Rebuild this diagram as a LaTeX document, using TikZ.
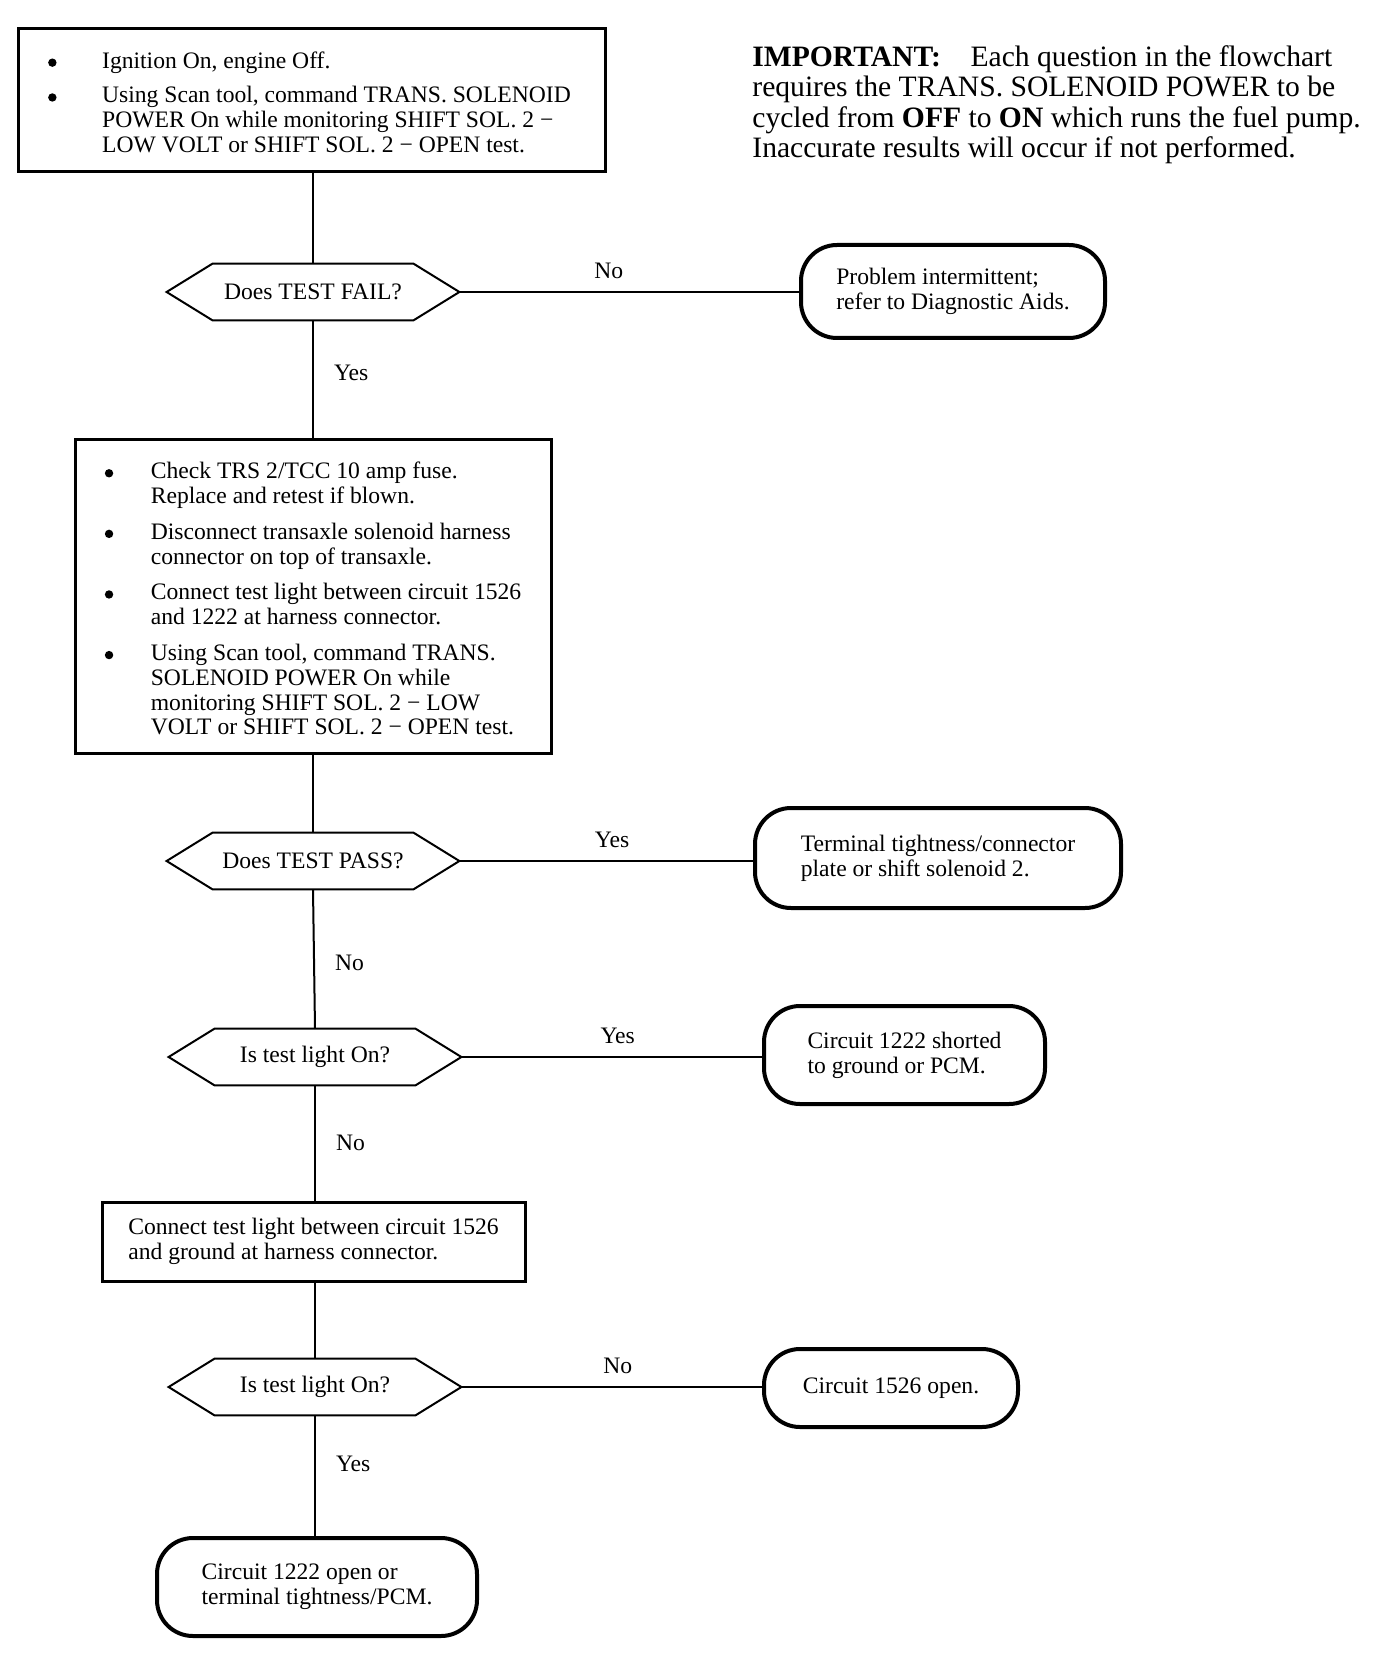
\documentclass[tikz,border=0pt]{standalone}
\usepackage{fontspec}
\setmainfont{Liberation Serif}
\usetikzlibrary{positioning,calc}
\newcommand{\chartfont}{\fontsize{11.8}{12.4}\selectfont}
\newcommand{\notefont}{\fontsize{14.8}{15.2}\selectfont}
\newcommand{\dotmark}{\tikz[baseline=-0.5ex]\fill (0,0) circle (2.1pt);}
\tikzset{
  flowbox/.style={rectangle, draw, line width=1.5pt, align=left, inner sep=0pt},
  ask/.style={rectangle, minimum width=146pt, minimum height=28pt, inner sep=0pt},
  askline/.style={line width=1pt, line join=miter},
  endbox/.style={rectangle, rounded corners=18pt, draw, line width=2pt, align=left, inner sep=0pt},
  link/.style={line width=1pt},
  answer/.style={font=\chartfont, inner sep=2pt},
}

\begin{document}
\begin{tikzpicture}[x=0.5pt, y=-0.5pt, font=\chartfont]
  \useasboundingbox (0,0) rectangle (1392,1658);

  % note at the top right
  \node[anchor=north west, align=left, inner sep=0pt, font=\notefont] (note) at (752,45)
    {\textbf{IMPORTANT:}\quad Each question in the flowchart\\
     requires the TRANS. SOLENOID POWER to be\\
     cycled from \textbf{OFF} to \textbf{ON} which runs the fuel pump.\\
     Inaccurate results will occur if not performed.};

  % main column
  \node[flowbox, minimum width=293.5pt, minimum height=71.25pt] (start) at (311.5,100)
    {\begin{tabular}{@{}p{25pt}@{}l@{}}
      \hspace*{-2pt}\dotmark & \rule{0pt}{14pt}Ignition On, engine Off.\\[5pt]
      \hspace*{-2pt}\dotmark & Using Scan tool, command TRANS. SOLENOID\\
                  & POWER On while monitoring SHIFT SOL. 2 −\\
                  & LOW VOLT or SHIFT SOL. 2 − OPEN test.
     \end{tabular}};
  \node[ask] (q1) at (313,292) {Does TEST FAIL?};
  \node[flowbox, minimum width=238pt, minimum height=157pt] (check) at (313,596)
    {\begin{tabular}{@{}p{23pt}@{}l@{}}
      \dotmark & \rule{0pt}{14.5pt}Check TRS 2/TCC 10 amp fuse.\\
                  & Replace and retest if blown.\\[5.5pt]
      \dotmark & Disconnect transaxle solenoid harness\\
                  & connector on top of transaxle.\\[5.5pt]
      \dotmark & Connect test light between circuit 1526\\
                  & and 1222 at harness connector.\\[5.5pt]
      \dotmark & Using Scan tool, command TRANS.\\
                  & SOLENOID POWER On while\\
                  & monitoring SHIFT SOL. 2 − LOW\\
                  & VOLT or SHIFT SOL. 2 − OPEN test.
     \end{tabular}};
  \node[ask] (q2) at (313,861) {Does TEST PASS?};
  \node[ask] (q3) at (315,1057) {Is test light On?};
  \node[flowbox, minimum width=211.5pt, minimum height=39.5pt] (ground) at (313.5,1241.5)
    {Connect test light between circuit 1526\\and ground at harness connector.};
  \node[ask] (q4) at (315,1387) {Is test light On?};
  \node[endbox, minimum width=160pt, minimum height=49pt] (t5) at (317,1587)
    {Circuit 1222 open or\\terminal tightness/PCM.};

  % results on the right
  \node[endbox, minimum width=152pt, minimum height=46.5pt] (t1) at (953,291.5)
    {Problem intermittent;\\refer to Diagnostic Aids.};
  \node[endbox, minimum width=183pt, minimum height=50pt] (t2) at (938,858)
    {Terminal tightness/connector\\plate or shift solenoid 2.};
  \node[endbox, minimum width=140.5pt, minimum height=49pt] (t3) at (904.5,1055)
    {Circuit 1222 shorted\\to ground or PCM.};
  \node[endbox, minimum width=127pt, minimum height=39pt] (t4) at (891,1388)
    {Circuit 1526 open.};

  % question shapes
  \foreach \q in {q1,q2,q3,q4}
    \draw[askline] (\q.west) -- ([xshift=23pt]\q.north west) -- ([xshift=-23pt]\q.north east)
      -- (\q.east) -- ([xshift=-23pt]\q.south east) -- ([xshift=23pt]\q.south west) -- cycle;

  % connectors
  \draw[link] (q1.north |- start.south) -- (q1.north);
  \draw[link] (q1.south) -- node[answer, right=8pt, pos=0.45] {Yes} (q1.south |- check.north);
  \draw[link] (q2.north |- check.south) -- (q2.north);
  \draw[link] (q2.south) -- node[answer, right=8pt, pos=0.53] {No} (q3.north);
  \draw[link] (q3.south) -- node[answer, right=8pt] {No} (q3.south |- ground.north);
  \draw[link] (q4.north |- ground.south) -- (q4.north);
  \draw[link] (q4.south) -- node[answer, right=8pt, pos=0.4] {Yes} (q4.south |- t5.north);
  \draw[link] (q1.east) -- node[answer, above=4pt, pos=0.44] {No} (t1.west |- q1.east);
  \draw[link] (q2.east) -- node[answer, above=4pt, pos=0.52] {Yes} (t2.west |- q2.east);
  \draw[link] (q3.east) -- node[answer, above=4pt, pos=0.52] {Yes} (t3.west |- q3.east);
  \draw[link] (q4.east) -- node[answer, above=4pt, pos=0.52] {No} (t4.west |- q4.east);
\end{tikzpicture}
\end{document}
